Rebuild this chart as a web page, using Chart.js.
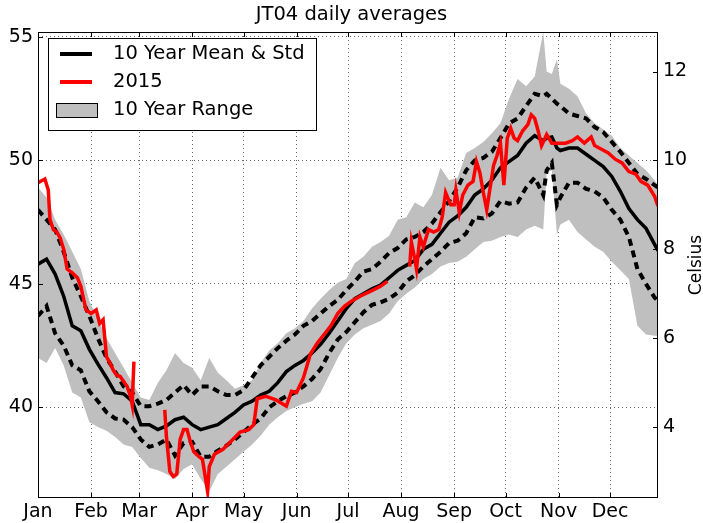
<!DOCTYPE html>
<html>
<head>
<meta charset="utf-8">
<title>JT04 daily averages</title>
<script src="https://cdn.jsdelivr.net/npm/chart.js@4.4.1/dist/chart.umd.min.js"></script>
<style>
  html, body { margin: 0; padding: 0; background: #fff; }
  #wrap { width: 703px; height: 523px; }
</style>
</head>
<body>
<div id="wrap"><canvas id="chart" width="703" height="523"></canvas></div>
<script>
// sample days (day of year) for the 10 year statistics
const days = [0,5,10,15,20,25,30,35,40,45,50,55,60,65,70,75,80,85,90,95,
  100,105,110,115,120,125,130,135,140,145,150,155,160,165,170,175,180,185,190,195,
  200,205,210,215,220,225,230,235,240,245,250,255,260,265,270,275,280,285,290,295,
  297,300,303,305,310,315,320,325,330,335,340,345,350,355,360,362];

// 10 year mean, mean +/- std, and range (deg F)
const meanF = [45.8,46.0,45.4,44.5,43.3,43.1,42.35,41.75,41.2,40.6,
  40.55,40.25,39.3,39.3,39.1,39.25,39.5,39.6,39.3,39.1,
  39.2,39.3,39.55,39.8,40.1,40.25,40.5,40.65,41.0,41.45,
  41.7,41.9,42.2,42.55,43.0,43.5,44.0,44.4,44.6,44.8,
  44.95,45.25,45.55,45.75,45.95,46.4,46.6,47.05,47.5,47.75,
  48.1,48.6,48.85,49.2,49.7,49.95,50.2,50.7,51.0,50.8,
  50.9,50.95,50.5,50.4,50.5,50.5,50.25,50.0,49.75,49.35,48.75,48.05,
  47.6,47.25,46.6,46.35];
const stdHighF = [48.0,47.6,47.2,46.3,45.25,44.5,43.7,42.8,42.0,41.45,
  40.85,40.6,40.05,40.05,40.15,40.3,40.6,40.9,40.5,40.85,
  40.85,40.65,40.5,40.5,40.7,41.2,41.7,42.05,42.4,42.7,
  42.95,43.3,43.5,43.8,44.1,44.35,44.75,45.1,45.5,45.6,
  45.9,46.25,46.45,46.8,46.9,47.1,47.45,47.9,48.35,48.9,
  49.6,50.0,50.1,50.35,50.9,51.5,51.7,52.2,52.7,52.6,
  52.7,52.5,52.3,52.2,51.9,51.8,51.7,51.35,51.15,50.75,50.35,49.9,
  49.45,49.25,49.0,48.9];
const stdLowF = [43.7,44.1,43.0,42.5,41.7,41.5,40.65,40.25,39.8,39.55,
  39.5,39.2,38.7,38.4,38.5,38.7,38.05,38.55,38.6,38.0,
  38.0,38.25,38.45,38.7,39.0,39.3,39.55,40.0,40.25,40.45,
  40.6,40.85,41.15,41.55,42.2,42.75,43.05,43.45,43.85,44.15,
  44.25,44.4,44.65,45.1,45.35,45.7,46.0,46.3,46.65,46.75,
  47.05,47.7,47.65,47.85,48.35,48.25,48.3,48.9,49.3,48.6,
  49.6,49.9,48.2,48.5,49.1,49.1,48.85,48.75,48.5,48.0,47.6,46.9,
  45.6,45.0,44.45,44.3];
const rangeMaxF = [48.9,48.5,47.6,47.0,46.3,45.6,44.3,43.6,42.8,42.2,
  41.6,41.0,40.4,40.3,41.0,41.5,42.2,41.8,41.6,41.1,
  42.0,41.4,41.1,40.75,40.9,41.1,41.8,42.3,42.6,43.0,
  43.2,43.5,44.0,44.4,44.75,45.05,45.2,45.85,46.1,46.5,
  46.7,46.95,47.6,47.7,48.3,48.1,48.6,49.7,49.2,49.3,
  50.3,50.5,50.75,51.1,51.5,52.5,53.3,53.0,53.4,55.2,
  53.6,53.5,54.1,53.1,52.9,52.6,51.9,51.5,51.25,51.0,50.5,50.2,
  49.9,49.6,49.2,49.0];
const rangeMinF = [42.0,41.8,42.4,41.7,40.6,40.4,39.4,39.2,39.05,38.8,
  38.5,38.4,37.95,37.55,37.45,37.3,37.1,37.5,37.7,37.1,
  36.6,37.3,37.6,37.9,38.2,38.5,38.85,39.3,39.6,39.85,
  40.0,40.15,40.25,40.6,41.3,42.0,42.6,42.95,43.2,43.35,
  43.5,43.8,44.3,44.6,44.85,45.2,45.4,45.7,45.85,45.9,
  46.1,46.4,46.7,46.75,46.9,47.0,46.9,47.2,47.35,47.2,
  49.5,49.6,47.0,47.4,47.6,47.1,46.8,46.5,46.3,45.9,45.55,45.2,
  43.3,42.95,42.9,42.9];

// 2015 daily values (null = missing)
const days2015 = [0,4,6,7,9,11,13,15,17,20,23,25,28,31,34,36,38,40,42,44,46,48,50,52,54,55,56,65,
  74,75,77,79,81,83,85,87,89,91,94,96,99,100,103,108,113,118,123,126,128,133,139,145,148,151,
  155,159,163,167,171,175,179,183,188,194,200,204,210,
  217,218,220,221,223,225,228,231,234,236,238,241,243,244,246,248,251,254,256,258,260,262,264,
  266,268,270,272,274,276,278,280,283,286,288,290,292,294,297,300,304,308,312,315,319,323,325,
  329,333,337,341,345,349,352,356,360,362];
const temp2015 = [49.1,49.25,48.8,47.6,47.2,47.1,46.85,46.4,45.6,45.45,45.25,44.9,43.95,43.8,43.95,43.4,43.55,42.05,41.8,41.5,41.3,41.25,41.05,40.85,40.45,40.1,41.85,null,
  39.9,38.8,37.4,37.2,37.3,38.7,39.1,39.1,38.6,38.2,38.0,37.9,36.6,37.6,38.1,38.3,38.65,39.0,39.1,39.3,40.35,40.45,40.3,40.05,40.65,40.6,
  41.2,42.15,42.6,42.95,43.3,43.8,44.1,44.3,44.5,44.7,44.9,45.1,null,
  45.7,46.7,46.0,45.6,46.9,46.5,47.2,47.1,47.2,47.7,48.7,48.2,48.2,48.8,47.9,48.6,49.0,49.15,49.95,49.5,48.7,48.0,48.9,
  49.8,50.2,50.7,49.0,50.9,51.3,50.9,50.8,51.2,51.45,51.85,51.7,51.2,50.6,51.05,50.7,50.7,50.7,50.8,50.95,50.7,50.95,50.6,
  50.45,50.3,50.05,49.9,49.55,49.45,49.15,49.0,48.55,48.15];

// axes
const monthStarts = [0,31,59,90,120,151,181,212,243,273,304,334];
const monthLabels = ['Jan','Feb','Mar','Apr','May','Jun','Jul','Aug','Sep','Oct','Nov','Dec'];
const fTicks = [40,45,50,55];
const cTicks = [4,6,8,10,12];
const yMinF = 36.33, yMaxF = 55.2;

const toC = f => (f - 32) * 5 / 9;
const pts = vals => days.map((d, i) => ({ x: d, y: vals[i] }));
const FONT = 'DejaVu Sans';
Chart.defaults.font.family = FONT;
Chart.defaults.color = '#000';

// frame, inward ticks, legend and right axis title
const decorations = {
  id: 'decorations',
  afterDraw(chart) {
    const { ctx, chartArea: a, scales } = chart;
    ctx.save();
    ctx.strokeStyle = '#000';
    ctx.lineWidth = 1;
    ctx.beginPath();
    scales.x.ticks.forEach(t => {
      const px = Math.round(scales.x.getPixelForValue(t.value)) + 0.5;
      ctx.moveTo(px, a.bottom); ctx.lineTo(px, a.bottom - 5);
      ctx.moveTo(px, a.top); ctx.lineTo(px, a.top + 5);
    });
    scales.y.ticks.forEach(t => {
      const py = Math.round(scales.y.getPixelForValue(t.value)) + 0.5;
      ctx.moveTo(a.left, py); ctx.lineTo(a.left + 5, py);
    });
    scales.yC.ticks.forEach(t => {
      const py = Math.round(scales.yC.getPixelForValue(t.value)) + 0.5;
      ctx.moveTo(a.right, py); ctx.lineTo(a.right - 5, py);
    });
    ctx.stroke();
    ctx.strokeRect(a.left + 0.5, a.top + 0.5, a.right - a.left - 1, a.bottom - a.top - 1);

    // legend
    const lx = a.left + 10, ly = a.top + 6;
    ctx.fillStyle = '#fff';
    ctx.fillRect(lx, ly, 268, 92);
    ctx.strokeRect(lx + 0.5, ly + 0.5, 268, 92);
    ctx.lineWidth = 4;
    ctx.strokeStyle = '#000';
    ctx.beginPath(); ctx.moveTo(lx + 12, ly + 16); ctx.lineTo(lx + 44, ly + 16); ctx.stroke();
    ctx.strokeStyle = '#ff0000';
    ctx.beginPath(); ctx.moveTo(lx + 12, ly + 44); ctx.lineTo(lx + 44, ly + 44); ctx.stroke();
    ctx.lineWidth = 1;
    ctx.fillStyle = '#bfbfbf';
    ctx.fillRect(lx + 8, ly + 65, 41, 14);
    ctx.strokeStyle = '#000';
    ctx.strokeRect(lx + 8.5, ly + 65.5, 41, 14);
    ctx.fillStyle = '#000';
    ctx.font = '19.5px "' + FONT + '"';
    ctx.textBaseline = 'middle';
    ctx.textAlign = 'left';
    ctx.fillText('10 Year Mean & Std', lx + 65, ly + 16);
    ctx.fillText('2015', lx + 65, ly + 44);
    ctx.fillText('10 Year Range', lx + 65, ly + 72);

    // right axis title
    ctx.translate(697, (a.top + a.bottom) / 2);
    ctx.rotate(-Math.PI / 2);
    ctx.textAlign = 'center';
    ctx.font = '17px "' + FONT + '"';
    ctx.fillText('Celsius', 0, 0);
    ctx.restore();
  }
};

const tickFont = { size: 19, family: FONT };
const gridDash = [1, 3];

new Chart(document.getElementById('chart'), {
  type: 'line',
  data: {
    datasets: [
      { label: '2015', data: days2015.map((d, i) => ({ x: d, y: temp2015[i] })),
        borderColor: '#ff0000', borderWidth: 3.5, pointRadius: 0, spanGaps: false, fill: false, yAxisID: 'y' },
      { label: '10 Year Mean', data: pts(meanF), borderColor: '#000', borderWidth: 3.5, pointRadius: 0, fill: false, yAxisID: 'y' },
      { label: 'Mean + Std', data: pts(stdHighF), borderColor: '#000', borderWidth: 4, borderDash: [7, 5],
        pointRadius: 0, fill: false, yAxisID: 'y' },
      { label: 'Mean - Std', data: pts(stdLowF), borderColor: '#000', borderWidth: 4, borderDash: [7, 5],
        pointRadius: 0, fill: false, yAxisID: 'y' },
      { label: '10 Year Range', data: pts(rangeMaxF), borderWidth: 0, borderColor: 'rgba(0,0,0,0)',
        backgroundColor: '#bfbfbf', pointRadius: 0, fill: '+1', yAxisID: 'y' },
      { label: 'Range min', data: pts(rangeMinF), borderWidth: 0, borderColor: 'rgba(0,0,0,0)',
        pointRadius: 0, fill: false, yAxisID: 'y' }
    ]
  },
  options: {
    responsive: false,
    animation: false,
    layout: { padding: 0 },
    elements: { line: { tension: 0, borderCapStyle: 'butt' } },
    plugins: {
      legend: { display: false },
      tooltip: { enabled: false },
      title: {
        display: true,
        text: 'JT04 daily averages',
        color: '#000',
        font: { size: 19.5, family: FONT, weight: 'normal' },
        padding: { top: 3.5, bottom: 5.1 }
      }
    },
    scales: {
      x: {
        type: 'linear', min: 0, max: 362,
        afterBuildTicks: s => { s.ticks = monthStarts.map(v => ({ value: v })); },
        afterFit: s => { s.height = 25; },
        ticks: { callback: (v, i) => monthLabels[i], font: tickFont, color: '#000',
                 padding: 3, maxRotation: 0, autoSkip: false },
        grid: { color: '#666', lineWidth: 1, drawTicks: false, borderDash: gridDash },
        border: { display: false, dash: gridDash }
      },
      y: {
        position: 'left', min: yMinF, max: yMaxF,
        afterBuildTicks: s => { s.ticks = fTicks.map(v => ({ value: v })); },
        afterFit: s => { s.width = 38; },
        ticks: { font: tickFont, color: '#000', padding: 5 },
        grid: { color: '#666', lineWidth: 1, drawTicks: false, borderDash: gridDash },
        border: { display: false, dash: gridDash }
      },
      yC: {
        position: 'right', min: toC(yMinF), max: toC(yMaxF),
        afterBuildTicks: s => { s.ticks = cTicks.map(v => ({ value: v })); },
        afterFit: s => { s.width = 45; },
        ticks: { font: tickFont, color: '#000', padding: 5, callback: v => String(v) },
        grid: { display: false, drawOnChartArea: false, drawTicks: false },
        border: { display: false }
      }
    }
  },
  plugins: [decorations]
});
</script>
</body>
</html>
